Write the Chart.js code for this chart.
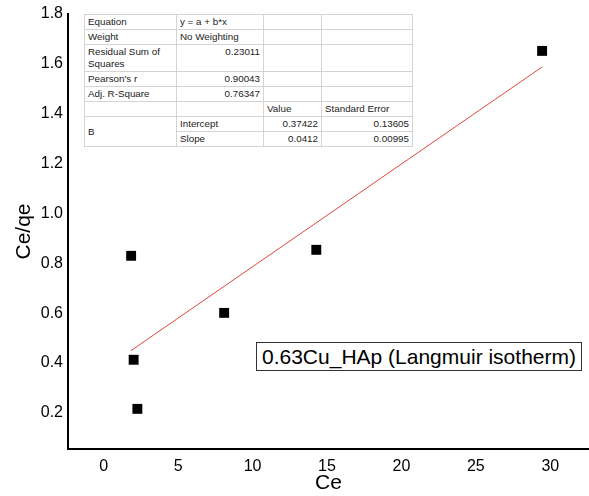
<!DOCTYPE html>
<html>
<head>
<meta charset="utf-8">
<script src="https://cdn.jsdelivr.net/npm/chart.js@4/dist/chart.umd.min.js"></script>
<style>
  html, body { margin: 0; padding: 0; background: #fff; }
  #wrap { position: relative; width: 589px; height: 496px; overflow: hidden; }
  #c { position: absolute; left: 0; top: 0; }
  #fit {
    position: absolute; left: 84px; top: 14px;
    border-collapse: collapse; table-layout: fixed;
    font-family: "Liberation Sans", Arial, sans-serif; font-size: 9.8px; color: #222;
    background: #fff; border: 1px solid #808080;
  }
  #fit td { border: 1px solid #d4d4d4; padding: 0 3px; vertical-align: top; line-height: 12px; padding-top: 1px; overflow: hidden; white-space: nowrap; }
  #fit td.wrap { white-space: normal; }
  #fit td.num { text-align: right; }
  #fit td.mid { vertical-align: middle; }
  #tag {
    position: absolute; left: 256px; top: 342px; width: 324px; height: 27px;
    border: 1px solid #333; background: #fff;
    font-family: "Liberation Sans", Arial, sans-serif; font-size: 21px; line-height: 27px;
    color: #000; text-align: center; white-space: nowrap;
  }
</style>
</head>
<body>
<div id="wrap">
  <canvas id="c" width="589" height="496"></canvas>
  <table id="fit">
    <colgroup><col style="width:92px"><col style="width:87px"><col style="width:58px"><col style="width:91px"></colgroup>
    <tbody id="fitBody"></tbody>
  </table>
  <div id="tag"></div>
</div>
<script>
// Measured points: Ce against Ce/qe
const ce   = [1.84, 2.01, 2.26, 8.09, 14.28, 29.45];
const ceqe = [0.830, 0.413, 0.216, 0.601, 0.854, 1.652];

// Linear fit results (y = a + b*x)
const fitIntercept = 0.37422;
const fitSlope = 0.0412;
const fitInterceptErr = 0.13605;
const fitSlopeErr = 0.00995;
const fitRss = 0.23011;
const fitPearson = 0.90043;
const fitAdjR2 = 0.76347;

// Axis ticks
const xTicks = [0, 5, 10, 15, 20, 25, 30];
const yTicks = [0.2, 0.4, 0.6, 0.8, 1.0, 1.2, 1.4, 1.6, 1.8];

const sampleLabel = '0.63Cu_HAp (Langmuir isotherm)';

// Fit summary table
const rows = [
  ['<td>Equation</td><td>y = a + b*x</td><td></td><td></td>', 15],
  ['<td>Weight</td><td>No Weighting</td><td></td><td></td>', 15],
  ['<td class="wrap">Residual Sum of Squares</td><td class="num">' + fitRss.toFixed(5) + '</td><td></td><td></td>', 27],
  ['<td>Pearson\'s r</td><td class="num">' + fitPearson.toFixed(5) + '</td><td></td><td></td>', 15],
  ['<td>Adj. R-Square</td><td class="num">' + fitAdjR2.toFixed(5) + '</td><td></td><td></td>', 15],
  ['<td></td><td></td><td>Value</td><td>Standard Error</td>', 15],
  ['<td rowspan="2" class="mid">B</td><td>Intercept</td><td class="num">' + fitIntercept + '</td><td class="num">' + fitInterceptErr + '</td>', 15],
  ['<td>Slope</td><td class="num">' + fitSlope + '</td><td class="num">' + fitSlopeErr.toFixed(5) + '</td>', 15]
];
document.getElementById('fitBody').innerHTML = rows.map(r => '<tr style="height:' + r[1] + 'px">' + r[0] + '</tr>').join('');
document.getElementById('tag').textContent = sampleLabel;

const points = ce.map((x, i) => ({ x: x, y: ceqe[i] }));
const xLo = Math.min(...ce), xHi = Math.max(...ce);
const fitLine = [xLo, xHi].map(x => ({ x: x, y: fitIntercept + fitSlope * x }));

const font = { family: '"Liberation Sans", Arial, sans-serif' };

new Chart(document.getElementById('c'), {
  type: 'scatter',
  data: {
    datasets: [
      {
        data: points,
        pointStyle: 'rect',
        pointRadius: 7,
        pointHoverRadius: 7,
        backgroundColor: '#000',
        borderColor: '#000',
        borderWidth: 0
      },
      {
        type: 'line',
        data: fitLine,
        borderColor: '#df4640',
        borderWidth: 1,
        pointRadius: 0,
        fill: false
      }
    ]
  },
  options: {
    responsive: false,
    animation: false,
    devicePixelRatio: 1,
    layout: { autoPadding: false, padding: { top: 14, right: 0, left: 0, bottom: 0 } },
    plugins: { legend: { display: false }, tooltip: { enabled: false } },
    scales: {
      x: {
        type: 'linear',
        min: -2.4,
        max: 32.6,
        grid: { display: false, drawTicks: false },
        border: { display: true, color: '#000', width: 2 },
        afterBuildTicks: s => { s.ticks = xTicks.map(v => ({ value: v })); },
        afterFit: s => { s.height = 47; s.paddingLeft = 0; s.paddingRight = 0; },
        ticks: { color: '#000', padding: 8, font: { ...font, size: 16 }, callback: v => String(v) },
        title: { display: true, text: 'Ce', color: '#000', font: { ...font, size: 21 }, padding: { top: 0, bottom: 0 } }
      },
      y: {
        type: 'linear',
        min: 0.055,
        max: 1.8,
        grid: { display: false, drawTicks: false },
        border: { display: true, color: '#000', width: 2 },
        afterBuildTicks: s => { s.ticks = yTicks.map(v => ({ value: v })); },
        afterFit: s => { s.width = 68; s.paddingTop = 0; s.paddingBottom = 0; },
        ticks: { color: '#000', padding: 5, font: { ...font, size: 16 }, callback: v => Number(v).toFixed(1) },
        title: { display: true, text: 'Ce/qe', color: '#000', font: { ...font, size: 21 }, padding: { top: 12, bottom: 0 } }
      }
    }
  }
});
</script>
</body>
</html>
